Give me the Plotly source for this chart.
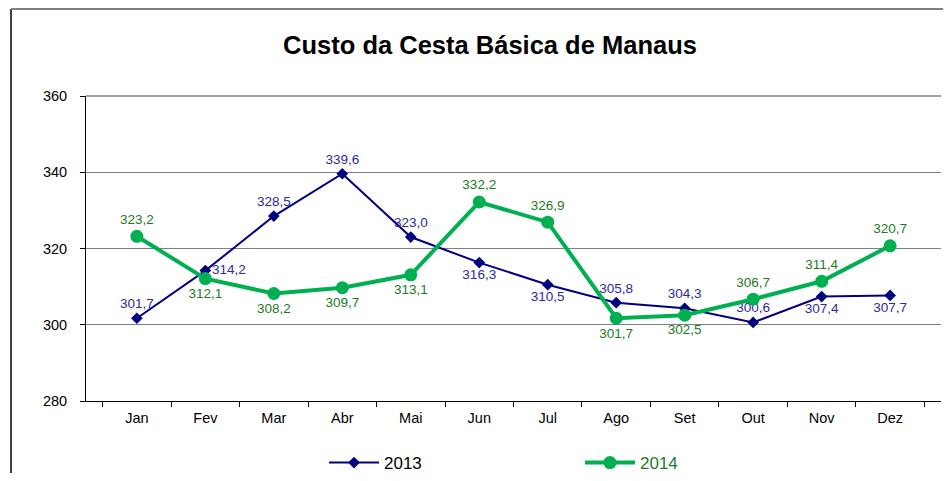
import plotly.graph_objects as go

months = ["Jan", "Fev", "Mar", "Abr", "Mai", "Jun", "Jul", "Ago", "Set", "Out", "Nov", "Dez"]
v2013 = [301.7, 314.2, 328.5, 339.6, 323.0, 316.3, 310.5, 305.8, 304.3, 300.6, 307.4, 307.7]
v2014 = [323.2, 312.1, 308.2, 309.7, 313.1, 332.2, 326.9, 301.7, 302.5, 306.7, 311.4, 320.7]
pos2013 = ["top center", "middle right", "top center", "top center", "top center", "bottom center",
           "bottom center", "top center", "top center", "top center", "bottom center", "bottom center"]
pos2014 = ["top center", "bottom center", "bottom center", "bottom center", "bottom center", "top center",
           "top center", "bottom center", "bottom center", "top center", "top center", "top center"]

def fmt(v):
    return f"{v:.1f}".replace(".", ",")

FONT = "Liberation Sans, Arial, sans-serif"
# page body has an 8px margin; figure sized to fill the 951x481 window exactly
W, H = 935, 465
fig = go.Figure()
fig.add_trace(go.Scatter(
    x=months, y=v2013, name="2013", mode="lines+markers+text",
    line=dict(color="#000080", width=2),
    marker=dict(symbol="diamond", size=9, color="#000080"),
    text=[fmt(v) for v in v2013], textposition=pos2013,
    textfont=dict(family=FONT, size=13.5, color="#2B2B9C"),
))
fig.add_trace(go.Scatter(
    x=months, y=v2014, name='<span style="color:#1E7B1E">2014</span>', mode="lines+markers+text",
    line=dict(color="#00B050", width=4),
    marker=dict(symbol="circle", size=13, color="#00B050"),
    text=[fmt(v) for v in v2014], textposition=pos2014,
    textfont=dict(family=FONT, size=13.5, color="#1E7B1E"),
))

fig.update_layout(
    width=W, height=H,
    margin=dict(l=78, r=2, t=88, b=72, autoexpand=False),
    paper_bgcolor="white", plot_bgcolor="white",
    font=dict(family=FONT, size=14, color="black"),
    title=dict(text="<b>Custo da Cesta Básica de Manaus</b>", x=(490-8)/W, xanchor="center",
               xref="container", y=1-(45-8)/H, yanchor="middle", yref="container",
               font=dict(family=FONT, size=25.5, color="black")),
    showlegend=True,
    legend=dict(orientation="h", x=(324-86)/855, xanchor="left", y=(401-463)/305, yanchor="middle",
                entrywidth=191, entrywidthmode="pixels", itemwidth=50,
                font=dict(family=FONT, size=17, color="black"), bgcolor="rgba(0,0,0,0)"),
)
fig.update_xaxes(type="category", tickson="boundaries", ticks="outside", ticklen=5,
                 tickcolor="black", showline=True, linecolor="black", linewidth=1,
                 showgrid=False, tickfont=dict(family=FONT, size=14.5), fixedrange=True,
                 ticklabelstandoff=4)
fig.update_yaxes(range=[280, 360], dtick=20, ticks="outside", ticklen=5, tickcolor="black",
                 showline=True, linecolor="black", linewidth=1, showgrid=True,
                 gridcolor="#7f7f7f", gridwidth=1, zeroline=False,
                 tickfont=dict(family=FONT, size=14.5), fixedrange=True,
                 ticklabelstandoff=10)

# top gridline at the axis maximum
fig.add_shape(type="line", xref="paper", yref="paper", x0=0, x1=1, y0=1, y1=1,
              line=dict(color="#404040", width=1), layer="below")
# outer chart border (left and top), kept inside the figure's drawing area
top = (401-9)/305
fig.add_shape(type="line", xref="paper", yref="paper", x0=(11-86)/855, x1=(11-86)/855,
              y0=top, y1=(401-481)/305, line=dict(color="black", width=1.5))
fig.add_shape(type="line", xref="paper", yref="paper", x0=(11-86)/855, x1=(951-86)/855,
              y0=top, y1=top, line=dict(color="#808080", width=2))

fig.write_html("out.html")
